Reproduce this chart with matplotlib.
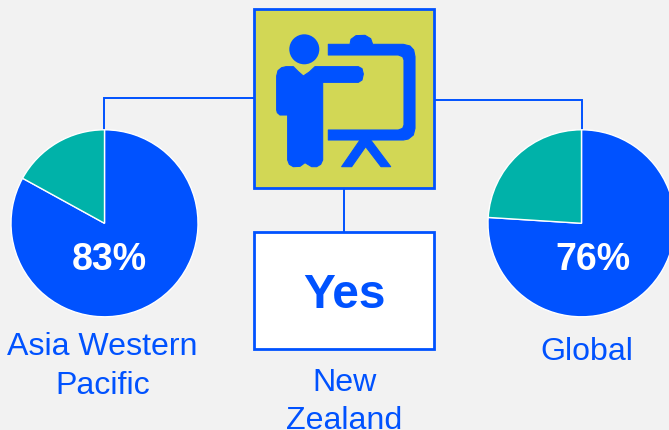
import matplotlib
matplotlib.use("Agg")
import matplotlib.pyplot as plt
from matplotlib.patches import Polygon, Circle, Rectangle

W, H = 669, 430
BLUE = "#0052FF"
TEAL = "#00B2A9"
BG = "#F2F2F2"
OLIVE = "#D2D755"

regions = ["Asia Western\nPacific", "Global"]
yes_shares = [83, 76]
no_shares = [17, 24]
share_labels = ["83%", "76%"]
centre_label = "Yes"
centre_region = "New\nZealand"

plt.rcParams["font.family"] = ["Liberation Sans", "DejaVu Sans"]
fig = plt.figure(figsize=(W / 100, H / 100), dpi=100, facecolor=BG)
ax = fig.add_axes([0, 0, 1, 1])
ax.set_xlim(0, W)
ax.set_ylim(0, H)
ax.axis("off")


def Y(y):
    return H - y


def line(xs, ys, lw=1.4):
    ax.plot(xs, [Y(v) for v in ys], color=BLUE, lw=lw, solid_joinstyle="miter", zorder=1)


line([104, 104, 254], [129, 98, 98])
line([434, 582, 582], [100, 100, 129])
line([344, 344], [188, 232])

for cx, yes, no in zip([104.5, 581.5], yes_shares, no_shares):
    ax.pie([yes, no], colors=[BLUE, TEAL], startangle=90, counterclock=False,
           center=(cx, Y(223.3)), radius=93.5, frame=False,
           wedgeprops=dict(edgecolor="white", linewidth=1.0))
ax.set_xlim(0, W)
ax.set_ylim(0, H)
ax.set_aspect("auto")

ax.text(109.5, Y(259.5), share_labels[0], color="white", fontsize=27, fontweight="bold",
        ha="center", va="center", zorder=5)
ax.text(592.5, Y(259.5), share_labels[1], color="white", fontsize=27, fontweight="bold",
        ha="center", va="center", zorder=5)

ax.add_patch(Rectangle((254, Y(188)), 180, 179, facecolor=OLIVE, edgecolor=BLUE, lw=2, zorder=2))
ax.add_patch(Rectangle((254, Y(349)), 180, 117, facecolor="white", edgecolor=BLUE, lw=2, zorder=2))
ax.text(344.5, Y(296), centre_label, color=BLUE, fontsize=34.5, fontweight="bold",
        ha="center", va="center", zorder=5)


def zoomed(points):
    return [(250 + x / 3, Y(y / 3)) for x, y in points]


def smooth_poly(points):
    ax.add_patch(Polygon(zoomed(points), closed=True, facecolor=BLUE, edgecolor=BLUE,
                         lw=0.8, joinstyle="round", zorder=3))


ax.add_patch(Circle((304.3, Y(49.3)), 15, facecolor=BLUE, edgecolor="none", zorder=3))
smooth_poly([(80, 228), (84, 212), (95, 203), (108, 200), (130, 200), (145, 215), (160, 228),
             (178, 216), (195, 200), (325, 200), (336, 206), (340, 222), (336, 240), (325, 247),
             (218, 247), (218, 480), (212, 493), (200, 500), (185, 500), (165, 488),
             (150, 499), (130, 500), (118, 493), (113, 480), (113, 345), (90, 345), (82, 338), (80, 330)])
smooth_poly([(235, 133), (300, 133), (303, 118), (318, 107), (345, 106), (362, 116), (368, 133),
             (460, 133), (480, 138), (491, 150), (495, 170), (495, 385), (490, 405), (475, 417),
             (460, 420), (235, 420), (235, 390), (445, 390), (458, 385), (462, 375),
             (462, 180), (458, 170), (445, 165), (235, 165)])
smooth_poly([(330, 420), (275, 500), (305, 500), (347, 440), (393, 500), (422, 500), (362, 420)])

ax.text(102.5, Y(366.5), regions[0], color=BLUE, fontsize=23.1, ha="center", va="center",
        linespacing=1.4, zorder=5)
ax.text(587, Y(352), regions[1], color=BLUE, fontsize=23.1, ha="center", va="center", zorder=5)
ax.text(344.5, Y(402), centre_region, color=BLUE, fontsize=23.1, ha="center", va="center",
        linespacing=1.38, zorder=5)

fig.savefig("out.png", dpi=100, facecolor=BG)
